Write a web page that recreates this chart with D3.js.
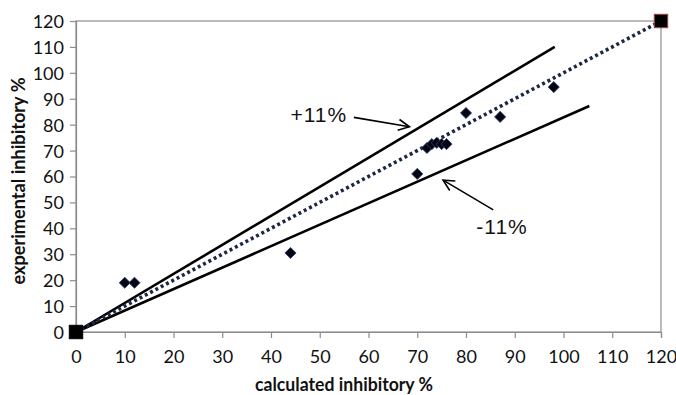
<!DOCTYPE html>
<html><head><meta charset="utf-8">
<script src="https://cdn.jsdelivr.net/npm/d3@7"></script>
<style>body{margin:0;background:#fff}svg{display:block}</style>
</head><body><svg id="c" width="676" height="395"></svg>
<script>
const calculated = [10, 12, 44, 70, 72, 73, 74, 75, 76, 80, 87, 98];
const experimental = [19, 19, 30.5, 61, 71, 72.5, 73, 72.5, 72.5, 84.5, 83, 94.5];
const idealLine = [[0, 0], [120, 120]];
const anchorPoints = [[0, 0], [120, 120]];
const upperBound = [[0, 0], [98.2, 110]];
const lowerBound = [[0, 0], [105.3, 87.2]];
const xTicks = [0,10,20,30,40,50,60,70,80,90,100,110,120];
const yTicks = [0,10,20,30,40,50,60,70,80,90,100,110,120];
const annotations = [
  {label: "+11%", text: [49.8, 81.2], from: [57.0, 82.8], to: [68.4, 79.2]},
  {label: "-11%", text: [87.4, 37.8], from: [85.6, 47.1], to: [75.3, 58.6]}
];
const xTitle = "calculated inhibitory %";
const yTitle = "experimental inhibitory %";

const svg = d3.select("#c");
const x = d3.scaleLinear().domain([0,120]).range([76,661]);
const y = d3.scaleLinear().domain([0,120]).range([332,21]);
const tickFont = "Lato, 'Open Sans', sans-serif";

// frame (top/right)
svg.append("rect").attr("x",x(0)).attr("y",y(120)).attr("width",x(120)-x(0)).attr("height",y(0)-y(120))
  .attr("fill","none").attr("stroke","#8c8c8c").attr("stroke-width",1.2);

const xa = svg.append("g").attr("transform",`translate(0,${y(0)})`)
  .call(d3.axisBottom(x).tickValues(xTicks).tickSize(6).tickPadding(12).tickFormat(d3.format("d")));
const ya = svg.append("g").attr("transform",`translate(${x(0)},0)`)
  .call(d3.axisLeft(y).tickValues(yTicks).tickSize(6).tickPadding(6).tickFormat(d3.format("d")));
[xa,ya].forEach(a=>{
  a.selectAll("path,line").attr("stroke","#8c8c8c").attr("stroke-width",1.2);
  a.selectAll("text").attr("font-family",tickFont).attr("font-size",18).attr("fill","#111");
});
ya.selectAll("text").attr("dy","0.36em");

const line = d3.line().x(d=>x(d[0])).y(d=>y(d[1]));
svg.append("path").attr("d",line(upperBound)).attr("stroke","#000").attr("stroke-width",2.6).attr("fill","none");
svg.append("path").attr("d",line(lowerBound)).attr("stroke","#000").attr("stroke-width",2.6).attr("fill","none");
svg.append("path").attr("d",line(idealLine)).attr("stroke","#1b2744").attr("stroke-width",3.6)
  .attr("stroke-dasharray","3,3").attr("fill","none");

// diamonds
svg.append("g").selectAll("path").data(calculated.map((c,i)=>[c,experimental[i]])).join("path")
  .attr("d", d3.symbol().type(d3.symbolSquare).size(62))
  .attr("transform", d=>`translate(${x(d[0])},${y(d[1])}) rotate(45)`)
  .attr("fill","#05060f").attr("stroke","#2a3f7a").attr("stroke-width",0.8);

// anchor squares
svg.append("g").selectAll("rect").data(anchorPoints).join("rect")
  .attr("x",d=>x(d[0])-6.7).attr("y",d=>y(d[1])-6.7).attr("width",13.4).attr("height",13.4)
  .attr("fill","#000").attr("stroke",(d,i)=>i===1?"#a04040":"#000").attr("stroke-width",1);

// annotations
svg.append("defs").append("marker").attr("id","arr").attr("viewBox","-12 -7 14 14")
  .attr("markerWidth",14).attr("markerHeight",14).attr("refX",0).attr("refY",0)
  .attr("orient","auto").attr("markerUnits","userSpaceOnUse")
  .append("path").attr("d","M-11,-5.5 L0,0 L-11,5.5").attr("fill","none").attr("stroke","#000").attr("stroke-width",1.6);
annotations.forEach(a=>{
  svg.append("line").attr("x1",x(a.from[0])).attr("y1",y(a.from[1])).attr("x2",x(a.to[0])).attr("y2",y(a.to[1]))
    .attr("stroke","#000").attr("stroke-width",1.6).attr("marker-end","url(#arr)");
  svg.append("text").attr("x",x(a.text[0])).attr("y",y(a.text[1])).attr("text-anchor","middle")
    .attr("font-family","'Liberation Sans', Arial, sans-serif").attr("font-size",21).attr("letter-spacing",1)
    .attr("fill","#111").text(a.label);
});

// titles
svg.append("text").attr("x",344).attr("y",391).attr("text-anchor","middle")
  .attr("font-family",tickFont).attr("font-weight","bold").attr("font-size",18)
  .attr("textLength",178).attr("lengthAdjust","spacingAndGlyphs").attr("fill","#111").text(xTitle);
svg.append("text").attr("transform","translate(25,181) rotate(-90)").attr("text-anchor","middle")
  .attr("font-family",tickFont).attr("font-weight","bold").attr("font-size",18)
  .attr("textLength",207).attr("lengthAdjust","spacingAndGlyphs").attr("fill","#111").text(yTitle);
</script></body></html>
